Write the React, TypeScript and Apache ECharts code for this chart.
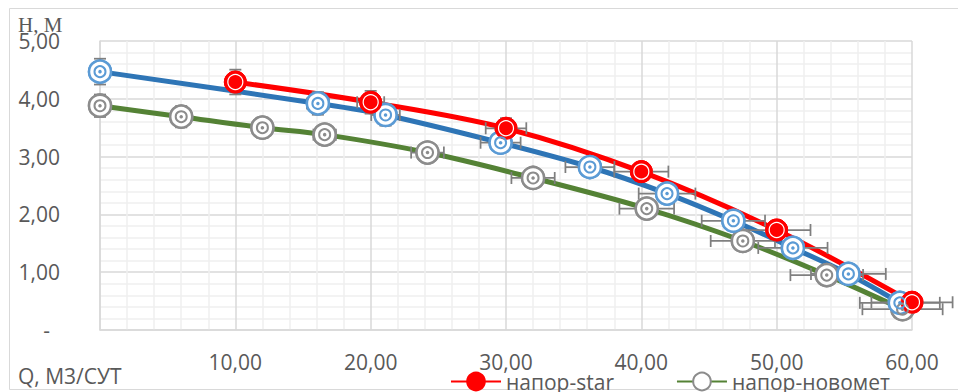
import React, { useEffect, useRef } from "react";
import * as echarts from "echarts";

const starX = [10, 20, 30, 40, 50, 60];
const starY = [4.29, 3.94, 3.49, 2.74, 1.73, 0.48];

const blueX = [0, 16.1, 21.1, 29.6, 36.2, 41.9, 46.8, 51.2, 55.3, 59.1];
const blueY = [4.47, 3.92, 3.72, 3.24, 2.82, 2.36, 1.89, 1.42, 0.97, 0.47];

const novX = [0, 6.0, 12.0, 16.6, 24.2, 32.0, 40.4, 47.5, 53.7, 59.3];
const novY = [3.88, 3.69, 3.5, 3.38, 3.07, 2.63, 2.1, 1.54, 0.95, 0.36];

const xTicks = [0, 10, 20, 30, 40, 50, 60];
const yTicks = [0, 1, 2, 3, 4, 5];
const errPct = 0.05;

const FONT = "Open Sans";
const TXT = "#595959";

const pairs = (xs: number[], ys: number[]) => xs.map((x, i) => [x, ys[i]]);

export default function App() {
  const ref = useRef<HTMLDivElement>(null);
  useEffect(() => {
    if (!ref.current) return;
    const chart = echarts.init(ref.current, undefined, { renderer: "svg" });
    const star = pairs(starX, starY);
    const blue = pairs(blueX, blueY);
    const nov = pairs(novX, novY);
    const allPts = [...nov, ...blue, ...star];
    const fmt = (v: number) => v.toFixed(2).replace(".", ",");

    const markerBase = (data: number[][], fill: string, border: string, bw: number, z: number) => ({
      type: "scatter",
      data,
      symbol: "circle",
      symbolSize: 22,
      itemStyle: { color: fill, borderColor: border, borderWidth: bw, opacity: 1 },
      z,
      silent: true,
    });
    const ring = (data: number[][], color: string, size: number, bw: number, z: number) => ({
      type: "scatter",
      data,
      symbol: "circle",
      symbolSize: size,
      itemStyle: { color: "rgba(0,0,0,0)", borderColor: color, borderWidth: bw, opacity: 1 },
      z,
      silent: true,
    });
    const dot = (data: number[][], color: string, size: number, z: number) => ({
      type: "scatter",
      data,
      symbol: "circle",
      symbolSize: size,
      itemStyle: { color, opacity: 1 },
      z,
      silent: true,
    });

    chart.setOption({
      animation: false,
      grid: { left: 100, right: 46, top: 41, bottom: 62, containLabel: false },
      xAxis: {
        type: "value",
        min: xTicks[0],
        max: xTicks[xTicks.length - 1],
        interval: 10,
        axisLine: { show: true, lineStyle: { color: "#d9d9d9", width: 1.5 } },
        axisTick: { show: false },
        axisLabel: {
          margin: 21,
          fontSize: 21,
          fontFamily: FONT,
          color: TXT,
          formatter: (v: number) => (v === 0 ? "" : fmt(v)),
        },
        splitLine: { show: true, lineStyle: { color: "#d9d9d9", width: 1.5 } },
        minorTick: { show: false, splitNumber: 5 },
        minorSplitLine: { show: true, lineStyle: { color: "#efefef", width: 1.5 } },
      },
      yAxis: {
        type: "value",
        min: yTicks[0],
        max: yTicks[yTicks.length - 1],
        interval: 1,
        axisLine: { show: true, lineStyle: { color: "#d9d9d9", width: 1.5 } },
        axisTick: { show: false },
        axisLabel: {
          margin: 40,
          fontSize: 21,
          fontFamily: FONT,
          color: TXT,
          formatter: (v: number) => (v === 0 ? "{d|-}" : fmt(v)),
          rich: {
            d: { fontSize: 21, fontFamily: FONT, color: TXT, padding: [0, 10, 0, 0] },
          },
        },
        splitLine: { show: true, lineStyle: { color: "#d9d9d9", width: 1.5 } },
        minorTick: { show: false, splitNumber: 5 },
        minorSplitLine: { show: true, lineStyle: { color: "#efefef", width: 1.5 } },
      },
      legend: {
        data: ["напор-star", "напор-новомет"],
        left: 445,
        top: 366,
        itemWidth: 50,
        itemHeight: 22,
        itemGap: 62,
        textStyle: { fontSize: 21, fontFamily: FONT, color: TXT },
      },
      graphic: [
        {
          type: "rect",
          shape: { x: 9.5, y: 8.5, width: 1000, height: 381 },
          style: { fill: "none", stroke: "#d9d9d9", lineWidth: 1 },
          z: -1,
          silent: true,
        },
        {
          type: "text",
          left: 18,
          top: 365,
          style: { text: "Q, М3/СУТ", fontSize: 21, fontFamily: FONT, fill: TXT },
        },
        {
          type: "text",
          left: 18,
          top: 14,
          style: { text: "Н, М", fontSize: 21, fontFamily: "Liberation Serif", fill: TXT },
          z: 10,
        },
      ],
      series: [
        {
          name: "напор-новомет",
          type: "line",
          data: nov,
          smooth: 0.35,
          symbol: "circle",
          symbolSize: 22,
          lineStyle: { color: "#548235", width: 5 },
          itemStyle: { color: "#ffffff", borderColor: "#8c8c8c", borderWidth: 2.5 },
          z: 2,
        },
        {
          name: "напор-ЭЦН",
          type: "line",
          data: blue,
          smooth: 0.35,
          symbol: "circle",
          symbolSize: 22,
          lineStyle: { color: "#2e75b6", width: 5 },
          itemStyle: { color: "#ffffff", borderColor: "#5b9bd5", borderWidth: 2.5 },
          z: 2,
        },
        {
          name: "напор-star",
          type: "line",
          data: star,
          smooth: 0.35,
          symbol: "circle",
          symbolSize: 22,
          lineStyle: { color: "#ff0000", width: 5 },
          itemStyle: { color: "#ff0000", borderColor: "#ff0000", borderWidth: 1 },
          z: 2,
        },
        {
          type: "custom",
          data: allPts,
          z: 3,
          silent: true,
          renderItem: (params: any, api: any) => {
            const x = api.value(0);
            const y = api.value(1);
            const ex = x * errPct;
            const ey = y * errPct;
            const l = api.coord([x - ex, y]);
            const r = api.coord([x + ex, y]);
            const t = api.coord([x, y + ey]);
            const b = api.coord([x, y - ey]);
            const cap = 6;
            const st = { stroke: "#7f7f7f", lineWidth: 1.75 };
            const children: any[] = [];
            if (ex > 0) {
              children.push({ type: "line", shape: { x1: l[0], y1: l[1], x2: r[0], y2: r[1] }, style: st });
              children.push({ type: "line", shape: { x1: l[0], y1: l[1] - cap, x2: l[0], y2: l[1] + cap }, style: st });
              children.push({ type: "line", shape: { x1: r[0], y1: r[1] - cap, x2: r[0], y2: r[1] + cap }, style: st });
            }
            children.push({ type: "line", shape: { x1: t[0], y1: t[1], x2: b[0], y2: b[1] }, style: st });
            children.push({ type: "line", shape: { x1: t[0] - cap, y1: t[1], x2: t[0] + cap, y2: t[1] }, style: st });
            children.push({ type: "line", shape: { x1: b[0] - cap, y1: b[1], x2: b[0] + cap, y2: b[1] }, style: st });
            return { type: "group", children };
          },
        },
        markerBase(nov, "#ffffff", "#8c8c8c", 2.5, 4),
        ring(nov, "#8c8c8c", 11, 2, 5),
        dot(nov, "#8c8c8c", 3.5, 5),
        markerBase(blue, "#ffffff", "#5b9bd5", 2.5, 4),
        ring(blue, "#5b9bd5", 11, 2, 5),
        dot(blue, "#5b9bd5", 3.5, 5),
        markerBase(star, "#ff0000", "#ff0000", 1, 4),
        ring(star, "#ffffff", 15, 1.2, 5),
      ],
    });
    return () => chart.dispose();
  }, []);
  return (
    <div
      ref={ref}
      style={{ position: "fixed", left: 0, top: 0, width: 958, height: 392, background: "#fff" }}
    />
  );
}
